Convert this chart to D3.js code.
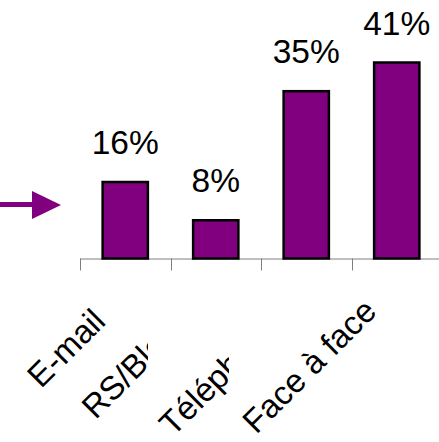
<!DOCTYPE html>
<html>
<head>
<meta charset="utf-8">
<script src="https://cdn.jsdelivr.net/npm/d3@7"></script>
<style>
  html, body { margin: 0; padding: 0; background: #fff; }
  svg { display: block; }
</style>
</head>
<body>
<svg id="chart" width="439" height="442"></svg>
<script>
const categories = ["E-mail", "RS/Blogs", "Téléphone", "Face à face"];
const values = [16, 8, 35, 41];
const valueLabels = ["16%", "8%", "35%", "41%"];

const svg = d3.select("#chart");
const W = 439, H = 442;
const baseY = 258.5;

const x = d3.scaleBand().domain(categories).range([80, 442]).paddingInner(0).paddingOuter(0);
const y = d3.scaleLinear().domain([0, 41]).range([baseY, 62.5]);

// label layout tweaks (end-anchor offsets relative to band centre) and clipping
const labelDX = [-18, -23, -23, -18.5];
const labelDY = [323, 323, 327, 313];
const clipX = [null, 148, 229, null];

const defs = svg.append("defs");
clipX.forEach((cx, i) => {
  if (cx !== null) {
    defs.append("clipPath").attr("id", "clip" + i)
      .append("rect").attr("x", 0).attr("y", 0).attr("width", cx).attr("height", H);
  }
});

// axis
const axisG = svg.append("g").attr("transform", `translate(0,${baseY})`);
axisG.append("path").attr("d", "M80,0.5H439")
  .attr("stroke", "#7f7f7f").attr("stroke-width", 1).attr("fill", "none");
const boundaries = categories.map(c => x(c)).concat([x(categories[3]) + x.bandwidth()]);
axisG.selectAll("line.tk").data(boundaries).enter().append("line")
  .attr("class", "tk")
  .attr("x1", d => Math.round(d) + 0.5).attr("x2", d => Math.round(d) + 0.5)
  .attr("y1", 0).attr("y2", 12)
  .attr("stroke", "#7f7f7f").attr("stroke-width", 1);

// bars
const bw = x.bandwidth() * 0.5;
svg.selectAll("rect.bar").data(values).enter().append("rect")
  .attr("class", "bar")
  .attr("x", (d, i) => x(categories[i]) + x.bandwidth() * 0.25)
  .attr("width", bw)
  .attr("y", d => y(d))
  .attr("height", d => baseY - y(d))
  .attr("fill", "#800080")
  .attr("stroke", "#000")
  .attr("stroke-width", 2.5);

// value labels
svg.selectAll("text.val").data(values).enter().append("text")
  .attr("class", "val")
  .attr("x", (d, i) => x(categories[i]) + x.bandwidth() / 2)
  .attr("y", d => y(d) - 28)
  .attr("text-anchor", "middle")
  .attr("font-family", "Liberation Sans, Arial, sans-serif")
  .attr("font-size", 33.5)
  .attr("fill", "#000")
  .text((d, i) => valueLabels[i]);

// category labels, rotated
svg.selectAll("g.cat").data(categories).enter().append("g")
  .attr("class", "cat")
  .attr("clip-path", (d, i) => clipX[i] !== null ? `url(#clip${i})` : null)
  .append("text")
  .attr("transform", (d, i) => `translate(${x(d) + x.bandwidth() / 2 + labelDX[i]},${labelDY[i]}) rotate(-45)`)
  .attr("text-anchor", "end")
  .attr("font-family", "Liberation Sans, Arial, sans-serif")
  .attr("font-size", 33)
  .attr("fill", "#000")
  .text(d => d);

// arrow annotation
svg.append("line")
  .attr("x1", 0).attr("x2", 34).attr("y1", 204.5).attr("y2", 204.5)
  .attr("stroke", "#800080").attr("stroke-width", 5);
svg.append("path")
  .attr("d", "M32,191L61,205L32,219Z")
  .attr("fill", "#800080");
</script>
</body>
</html>
